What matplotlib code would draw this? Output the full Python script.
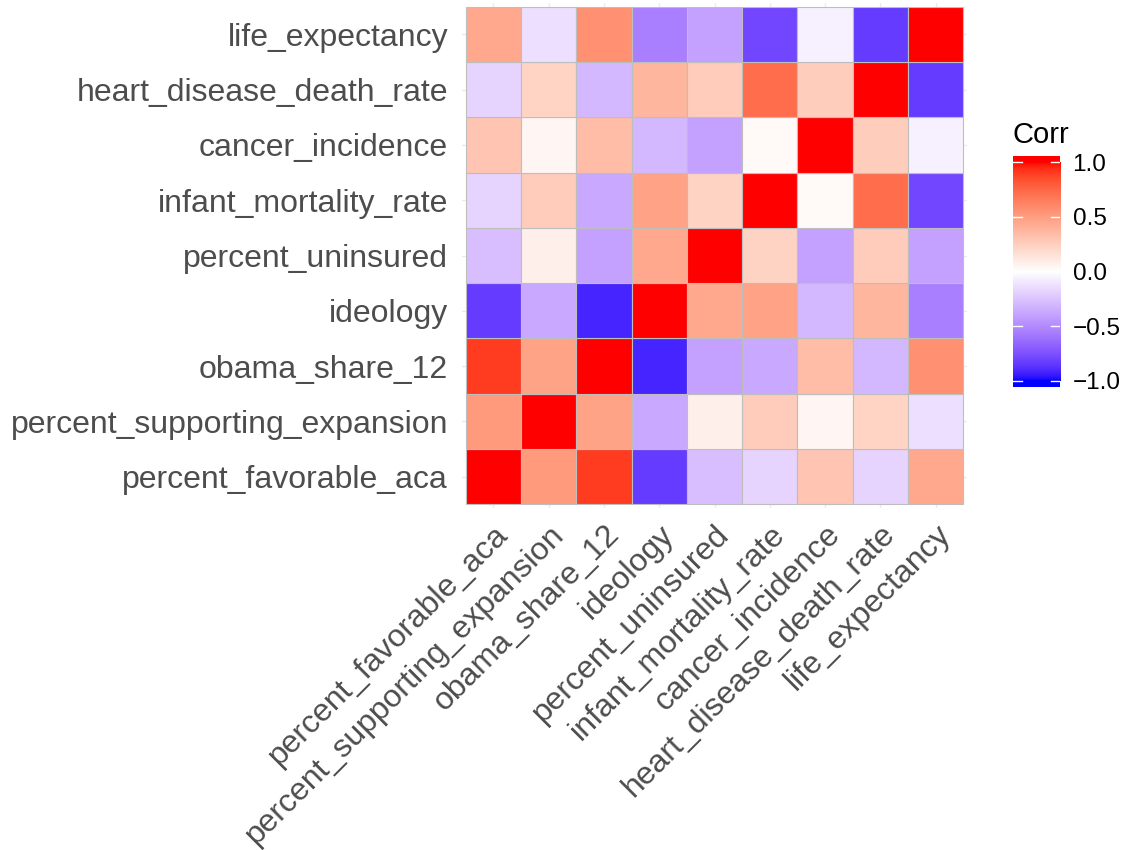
import numpy as np
import matplotlib
matplotlib.use("Agg")
import matplotlib.pyplot as plt
from matplotlib.colors import ListedColormap

# variable order (x left->right, y bottom->top)
variables = ["percent_favorable_aca", "percent_supporting_expansion", "obama_share_12",
             "ideology", "percent_uninsured", "infant_mortality_rate",
             "cancer_incidence", "heart_disease_death_rate", "life_expectancy"]

# correlation matrix rows, same order as variables
corr = [
    [1.00, 0.52, 0.90, -0.84, -0.28, -0.18, 0.30, -0.18, 0.45],
    [0.52, 1.00, 0.47, -0.37, 0.08, 0.27, 0.05, 0.22, -0.14],
    [0.90, 0.47, 1.00, -0.92, -0.40, -0.37, 0.35, -0.30, 0.57],
    [-0.84, -0.37, -0.92, 1.00, 0.45, 0.48, -0.30, 0.38, -0.55],
    [-0.28, 0.08, -0.40, 0.45, 1.00, 0.23, -0.40, 0.27, -0.40],
    [-0.18, 0.27, -0.37, 0.48, 0.23, 1.00, 0.03, 0.72, -0.79],
    [0.30, 0.05, 0.35, -0.30, -0.40, 0.03, 1.00, 0.26, -0.06],
    [-0.18, 0.22, -0.30, 0.38, 0.27, 0.72, 0.26, 1.00, -0.84],
    [0.45, -0.14, 0.57, -0.55, -0.40, -0.79, -0.06, -0.84, 1.00],
]
cbar_ticks = [-1.0, -0.5, 0.0, 0.5, 1.0]


# blue-white-red gradient interpolated in Lab space (like ggplot's gradient2)
def srgb_to_lab(rgb):
    rgb = np.asarray(rgb, float)
    lin = np.where(rgb <= 0.04045, rgb / 12.92, ((rgb + 0.055) / 1.055) ** 2.4)
    m = np.array([[0.4124, 0.3576, 0.1805], [0.2126, 0.7152, 0.0722], [0.0193, 0.1192, 0.9505]])
    xyz = m @ lin / np.array([0.95047, 1.0, 1.08883])
    f = np.where(xyz > 0.008856, np.cbrt(xyz), 7.787 * xyz + 16 / 116)
    return np.array([116 * f[1] - 16, 500 * (f[0] - f[1]), 200 * (f[1] - f[2])])


def lab_to_srgb(lab):
    L, a, b = lab
    fy = (L + 16) / 116
    fx = fy + a / 500
    fz = fy - b / 200
    f = np.array([fx, fy, fz])
    xyz = np.where(f ** 3 > 0.008856, f ** 3, (f - 16 / 116) / 7.787) * np.array([0.95047, 1.0, 1.08883])
    m = np.array([[3.2406, -1.5372, -0.4986], [-0.9689, 1.8758, 0.0415], [0.0557, -0.2040, 1.0570]])
    lin = np.clip(m @ xyz, 0, 1)
    rgb = np.where(lin <= 0.0031308, 12.92 * lin, 1.055 * lin ** (1 / 2.4) - 0.055)
    return np.clip(rgb, 0, 1)


blue, white, red = srgb_to_lab([0, 0, 1]), srgb_to_lab([1, 1, 1]), srgb_to_lab([1, 0, 0])
cols = []
for t in np.linspace(-1, 1, 256):
    if t < 0:
        lab = white + (blue - white) * (-t)
    else:
        lab = white + (red - white) * t
    cols.append(lab_to_srgb(lab))
cmap = ListedColormap(cols)

plt.rcParams["font.family"] = ["Liberation Sans", "DejaVu Sans"]

fig = plt.figure(figsize=(11.21, 8.5), dpi=100)
# tiles span x 466-963, y 7-504 px; axes a little bigger for the panel padding
ax = fig.add_axes([462 / 1121, 1 - 508 / 850, 505 / 1121, 505 / 850])

n = len(variables)
mat = np.array(corr)
pad = 0.07
ax.set_xlim(-0.5 - pad, n - 0.5 + pad)
ax.set_ylim(-0.5 - pad, n - 0.5 + pad)
for k in range(n):
    ax.axvline(k, color="#EBEBEB", lw=1.0, zorder=0)
    ax.axhline(k, color="#EBEBEB", lw=1.0, zorder=0)
for i in range(n):
    for j in range(n):
        ax.add_patch(plt.Rectangle((j - 0.5, i - 0.5), 1, 1,
                                   facecolor=cmap((mat[i, j] + 1) / 2),
                                   edgecolor="#BEBEBE", lw=0.8, zorder=2))
for s in ax.spines.values():
    s.set_visible(False)
ax.set_xticks(range(n))
ax.set_yticks(range(n))
ax.set_xticklabels(variables, rotation=45, ha="right", va="top", rotation_mode="anchor",
                   fontsize=23, color="#4D4D4D")
ax.set_yticklabels(variables, fontsize=23, color="#4D4D4D")
ax.tick_params(length=0)
ax.tick_params(axis="x", pad=8)
ax.tick_params(axis="y", pad=10)

# legend colourbar
cax = fig.add_axes([1013 / 1121, 1 - 387 / 850, 47 / 1121, 231 / 850])
grad = np.linspace(-1, 1, 256).reshape(-1, 1)
ext = 1.055
cax.imshow(grad, cmap=cmap, vmin=-1, vmax=1, aspect="auto", origin="lower",
           extent=[0, 1, -1, 1])
cax.set_ylim(-ext, ext)
cax.set_xlim(0, 1)
cax.axhspan(1, ext, color=cmap(1.0), lw=0)
cax.axhspan(-ext, -1, color=cmap(0.0), lw=0)
for t in cbar_ticks:
    cax.plot([0, 0.2], [t, t], color="white", lw=1)
    cax.plot([0.8, 1], [t, t], color="white", lw=1)
for s in cax.spines.values():
    s.set_visible(False)
cax.set_xticks([])
cax.yaxis.tick_right()
cax.set_yticks(cbar_ticks)
cax.set_yticklabels([f"{t:.1f}".replace("-", "\u2212") for t in cbar_ticks], fontsize=17.5)
cax.tick_params(axis="y", length=0, pad=9)
fig.text(1013 / 1121, 1 - 135 / 850, "Corr", fontsize=21, ha="left", va="center")

fig.savefig("out.png", dpi=100)
